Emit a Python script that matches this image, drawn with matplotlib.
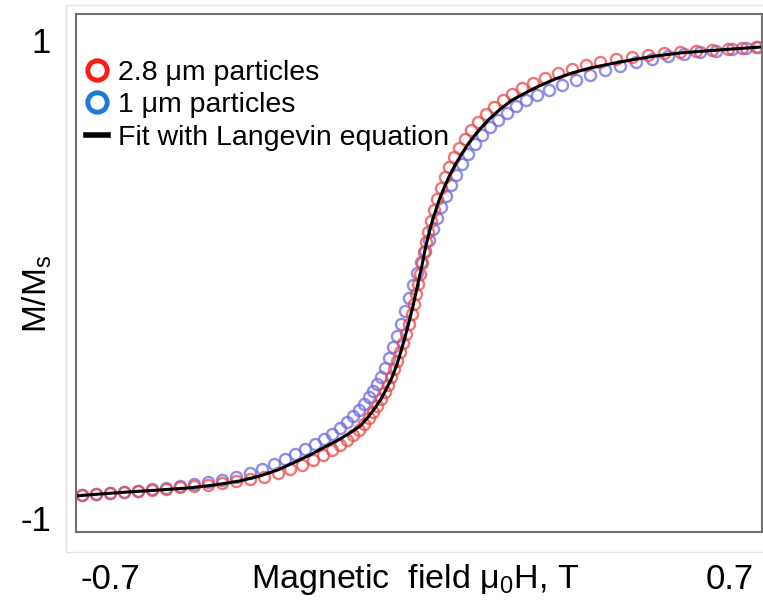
#!/usr/bin/env python3
"""Normalised magnetisation curves of 2.8 um and 1 um particles with Langevin fit."""
import matplotlib

matplotlib.use("Agg")
import matplotlib.pyplot as plt
import numpy as np
from matplotlib.lines import Line2D
from matplotlib.patches import Rectangle

plt.rcParams["font.family"] = ["Liberation Sans", "DejaVu Sans"]
plt.rcParams["mathtext.fontset"] = "custom"
plt.rcParams["mathtext.rm"] = "Liberation Sans"
plt.rcParams["mathtext.default"] = "regular"

# 2.8 um particles (field in T, M/Ms)
h_big = [-0.763, -0.732, -0.700, -0.668, -0.637, -0.605, -0.574, -0.542, -0.510, -0.479,
         -0.447, -0.415, -0.384, -0.352, -0.321, -0.294, -0.266, -0.242, -0.219, -0.199,
         -0.181, -0.165, -0.151, -0.138, -0.126, -0.115, -0.106, -0.097, -0.088, -0.079,
         -0.072, -0.065, -0.059, -0.052, -0.045, -0.038, -0.032, -0.025, -0.018, -0.014,
         -0.009, -0.005, 0.000, 0.005, 0.009, 0.014, 0.018, 0.025, 0.032, 0.038,
         0.047, 0.056, 0.065, 0.077, 0.088, 0.102, 0.115, 0.131, 0.149, 0.167,
         0.187, 0.208, 0.230, 0.255, 0.282, 0.312, 0.343, 0.375, 0.406, 0.443,
         0.479, 0.515, 0.551, 0.587, 0.623, 0.659, 0.695, 0.727, 0.759]
m_big = [-0.904, -0.900, -0.895, -0.891, -0.887, -0.883, -0.879, -0.870, -0.866, -0.862,
         -0.854, -0.845, -0.837, -0.828, -0.812, -0.795, -0.778, -0.757, -0.736, -0.715,
         -0.695, -0.674, -0.653, -0.632, -0.607, -0.582, -0.556, -0.531, -0.502, -0.473,
         -0.444, -0.410, -0.377, -0.343, -0.305, -0.268, -0.230, -0.188, -0.146, -0.105,
         -0.063, -0.021, 0.021, 0.067, 0.113, 0.155, 0.197, 0.243, 0.289, 0.335,
         0.381, 0.427, 0.469, 0.510, 0.548, 0.586, 0.623, 0.657, 0.690, 0.720,
         0.749, 0.774, 0.799, 0.820, 0.841, 0.862, 0.879, 0.895, 0.908, 0.921,
         0.929, 0.937, 0.946, 0.950, 0.954, 0.958, 0.962, 0.967, 0.971]

# 1 um particles
h_small = [-0.763, -0.732, -0.700, -0.668, -0.637, -0.605, -0.574, -0.542, -0.510, -0.479,
           -0.447, -0.415, -0.384, -0.357, -0.330, -0.305, -0.282, -0.260, -0.237, -0.217,
           -0.199, -0.181, -0.165, -0.151, -0.138, -0.126, -0.115, -0.106, -0.097, -0.088,
           -0.079, -0.070, -0.061, -0.052, -0.043, -0.034, -0.025, -0.016, -0.007, 0.002,
           0.011, 0.020, 0.029, 0.038, 0.047, 0.059, 0.070, 0.081, 0.095, 0.108,
           0.124, 0.140, 0.158, 0.176, 0.196, 0.217, 0.239, 0.264, 0.291, 0.321,
           0.352, 0.384, 0.418, 0.452, 0.488, 0.524, 0.560, 0.596, 0.632, 0.668,
           0.705, 0.736, 0.763]
m_small = [-0.904, -0.900, -0.895, -0.891, -0.887, -0.879, -0.874, -0.866, -0.858, -0.849,
           -0.841, -0.828, -0.812, -0.795, -0.774, -0.753, -0.732, -0.711, -0.690, -0.669,
           -0.649, -0.623, -0.598, -0.573, -0.548, -0.523, -0.494, -0.469, -0.439, -0.410,
           -0.372, -0.331, -0.285, -0.238, -0.188, -0.134, -0.079, -0.025, 0.025, 0.071,
           0.117, 0.163, 0.209, 0.255, 0.301, 0.347, 0.393, 0.435, 0.481, 0.523,
           0.565, 0.603, 0.636, 0.665, 0.695, 0.724, 0.749, 0.770, 0.791, 0.812,
           0.833, 0.854, 0.874, 0.891, 0.908, 0.921, 0.933, 0.941, 0.950, 0.954,
           0.962, 0.967, 0.971]

# Langevin fit
h_fit = [-0.777, -0.723, -0.655, -0.587, -0.519, -0.463, -0.406, -0.361, -0.321, -0.282,
         -0.248, -0.215, -0.185, -0.158, -0.135, -0.117, -0.102, -0.088, -0.075, -0.063,
         -0.052, -0.043, -0.034, -0.025, -0.016, -0.009, -0.002, 0.005, 0.011, 0.018,
         0.025, 0.034, 0.043, 0.054, 0.065, 0.079, 0.095, 0.113, 0.133, 0.156,
         0.181, 0.208, 0.237, 0.269, 0.305, 0.343, 0.384, 0.429, 0.474, 0.531,
         0.587, 0.644, 0.700, 0.772]
m_fit = [-0.908, -0.900, -0.891, -0.883, -0.874, -0.862, -0.845, -0.824, -0.799, -0.766,
         -0.736, -0.703, -0.674, -0.644, -0.615, -0.577, -0.540, -0.502, -0.456, -0.410,
         -0.356, -0.301, -0.243, -0.180, -0.113, -0.054, 0.004, 0.063, 0.121, 0.176,
         0.226, 0.280, 0.331, 0.381, 0.427, 0.477, 0.527, 0.577, 0.623, 0.669,
         0.711, 0.749, 0.778, 0.808, 0.837, 0.862, 0.883, 0.900, 0.916, 0.933,
         0.946, 0.954, 0.962, 0.971]

x_ticks = [-0.7, 0.7]
x_ticklabels = ["-0.7", "0.7"]
y_ticks = [-1, 1]
y_ticklabels = ["-1", "1"]

RED = "#ff1a1a"
BLUE = "#1f7ad6"


def main() -> None:
    W, H = 763, 606
    fig = plt.figure(figsize=(W / 100, H / 100), dpi=100)
    ax = fig.add_axes([76 / W, 1 - 532 / H, 686 / W, 518 / H])

    ax.plot(h_small, m_small, "o", ls="none", ms=8, mfc="none", mec="#6a6ae0", mew=1.7, alpha=0.75)
    ax.plot(h_big, m_big, "o", ls="none", ms=8, mfc="none", mec="#ea4a4a", mew=1.7, alpha=0.75)
    ax.plot(h_fit, m_fit, color="black", lw=2.2)

    ax.set_xlim(-0.777, 0.772)
    ax.set_ylim(-1.059, 1.109)

    ax.set_xticks(x_ticks, x_ticklabels)
    ax.set_yticks(y_ticks, y_ticklabels)
    ax.tick_params(axis="x", length=0, pad=22, labelsize=25)
    ax.tick_params(axis="y", length=0, pad=18, labelsize=25)
    for s in ax.spines.values():
        s.set_color("#707070")
        s.set_linewidth(1.5)

    ax.set_xlabel("Magnetic  field \u03bc$_0$H, T", fontsize=24.5)
    ax.xaxis.set_label_coords(0.494, -0.058)
    ax.set_ylabel("M/M$_s$", fontsize=24)
    ax.yaxis.set_label_coords(-0.057, 0.46)
    ax.yaxis.label.set_va("center")

    handles = [
        Line2D([], [], marker="o", ls="none", ms=14, mfc="white", mec=RED, mew=3.5),
        Line2D([], [], marker="o", ls="none", ms=14, mfc="white", mec=BLUE, mew=3.5),
        Line2D([], [], color="black", lw=4),
    ]
    labels = ["2.8 \u03bcm particles", "1 \u03bcm particles", "Fit with Langevin equation"]
    ax.legend(handles, labels, loc="upper left", bbox_to_anchor=(0.014, 0.911),
              frameon=False, fontsize=20.5, handlelength=0.8, handletextpad=0.35,
              labelspacing=0.22, borderpad=0, borderaxespad=0)

    fig.add_artist(Rectangle((66 / W, 1 - 552 / H), (W - 60) / W, 547 / H,
                             transform=fig.transFigure, fill=False, ec="#e4e4e4", lw=1))

    fig.savefig("out.png", dpi=100)
    plt.close(fig)


if __name__ == "__main__":
    main()
